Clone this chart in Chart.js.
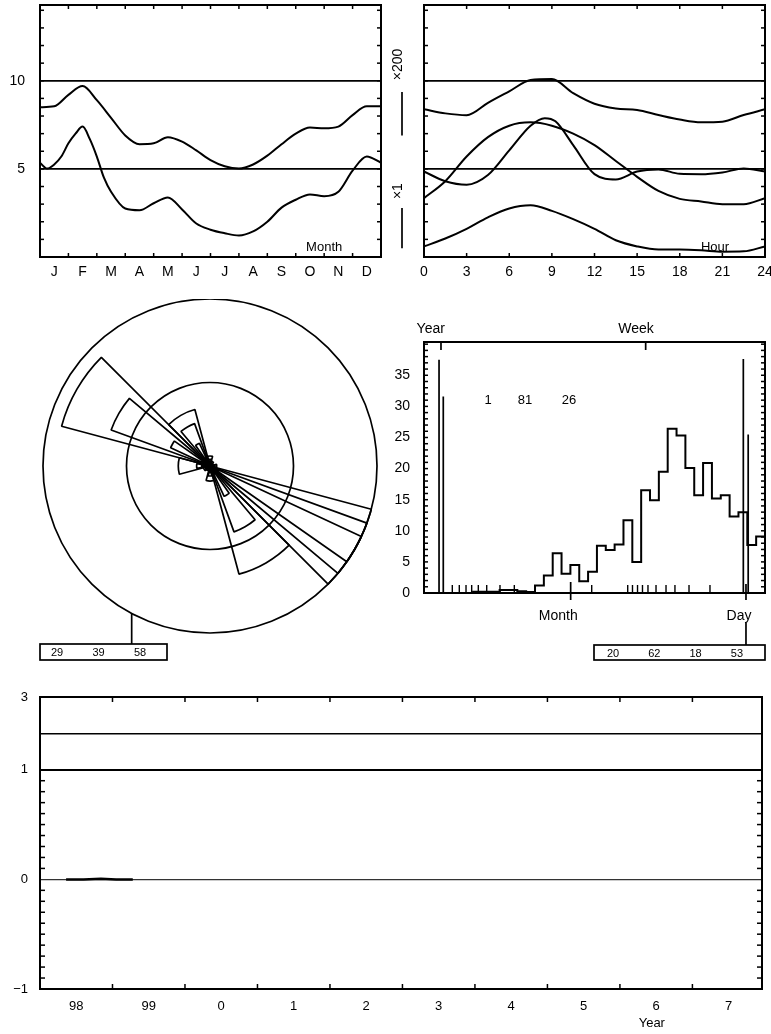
<!DOCTYPE html>
<html>
<head>
<meta charset="utf-8">
<title>Station summary</title>
<script src="https://cdn.jsdelivr.net/npm/chart.js@4.4.1/dist/chart.umd.min.js"></script>
<style>
  html, body { margin: 0; padding: 0; background: #fff; }
  #page { position: relative; width: 771px; height: 1034px; overflow: hidden; }
  canvas { position: absolute; }
</style>
</head>
<body>
<div id="page">
  <canvas id="monthChart" width="385" height="290" style="left:0;top:0"></canvas>
  <canvas id="hourChart" width="386" height="290" style="left:385px;top:0"></canvas>
  <canvas id="roseChart" width="385" height="370" style="left:0;top:299px"></canvas>
  <canvas id="histChart" width="386" height="370" style="left:385px;top:300px"></canvas>
  <canvas id="yearChart" width="771" height="344" style="left:0;top:690px"></canvas>
</div>
<script>
// Monthly cycle
const monthLabels = ['J', 'F', 'M', 'A', 'M', 'J', 'J', 'A', 'S', 'O', 'N', 'D'];
const monthPosA = [0, 0.5, 1, 1.5, 2, 2.5, 3, 3.5, 4, 4.5, 5, 5.5, 6, 6.5, 7, 7.5, 8, 8.5, 9, 9.5, 10, 10.5, 11, 11.5, 12];
const monthUpper = [8.5, 8.55, 9.2, 9.7, 8.9, 7.9, 6.9, 6.4, 6.45, 6.8, 6.55, 6.05, 5.5, 5.15, 5.02, 5.25, 5.75, 6.4, 7.0, 7.35, 7.3, 7.4, 8.05, 8.55, 8.55];
const monthPosB = [0, 0.25, 0.5, 0.75, 1, 1.25, 1.5, 1.75, 2, 2.25, 2.5, 3, 3.5, 4, 4.5, 5, 5.5, 6, 6.5, 7, 7.5, 8, 8.5, 9, 9.5, 10, 10.5, 11, 11.5, 12];
const monthLower = [5.35, 5.02, 5.25, 5.7, 6.45, 7.0, 7.4, 6.7, 5.7, 4.5, 3.7, 2.75, 2.65, 3.05, 3.38, 2.7, 1.9, 1.55, 1.35, 1.22, 1.45, 2.0, 2.8, 3.25, 3.55, 3.45, 3.7, 4.9, 5.7, 5.35];

// Daily cycle
const hourTicks = [0, 3, 6, 9, 12, 15, 18, 21, 24];
const hourPos = [0, 1.5, 3, 4.5, 6, 7.5, 9, 10.5, 12, 13.5, 15, 16.5, 18, 19.5, 21, 22.5, 24];
const hourTop = [8.38, 8.15, 8.05, 8.75, 9.4, 10.04, 10.1, 9.3, 8.7, 8.43, 8.34, 8.06, 7.8, 7.64, 7.68, 8.06, 8.38];
const hourBroad = [3.34, 4.3, 5.7, 6.8, 7.45, 7.64, 7.45, 7.0, 6.35, 5.45, 4.55, 3.75, 3.3, 3.15, 3.0, 3.0, 3.34];
const hourLow = [0.6, 1.05, 1.6, 2.25, 2.75, 2.93, 2.62, 2.15, 1.6, 0.95, 0.6, 0.42, 0.42, 0.38, 0.3, 0.32, 0.6];
const hourPosPeak = [0, 1.5, 3, 4.5, 6, 7.5, 8.5, 9.25, 10.5, 12, 13.5, 15, 16.5, 18, 19.5, 21, 22.5, 24];
const hourPeak = [4.85, 4.3, 4.1, 4.65, 6.05, 7.45, 7.88, 7.7, 6.35, 4.7, 4.4, 4.85, 4.97, 4.72, 4.7, 4.8, 5.02, 4.85];

// Direction rose (percent of outer ring), bins centred on 0,30,...,330 deg
const roseDirs = [0, 30, 60, 90, 120, 150, 180, 210, 240, 270, 300, 330];
const roseWide = [6, 3, 2, 4, 100, 67, 9, 3, 4, 19, 92, 35];
const roseMid = [4, 2, 1, 3, 100, 42, 6, 2, 3, 8, 63, 27];
const roseNarrow = [2, 1, 1, 2, 100, 20, 4, 1, 2, 5, 26, 15];
const roseScale = ['29', '39', '58'];

// Histogram
const histCounts = [0, 0, 0, 0, 0, 0.2, 0.2, 0.2, 0.5, 0.5, 0.3, 0.15, 1.2, 2.8, 6.4, 3.1, 4.5, 1.9, 3.4, 7.6, 6.9, 7.8, 11.7, 5.0, 16.5, 14.9, 19.5, 26.4, 25.3, 20.1, 15.7, 20.9, 15.2, 15.7, 12.3, 13.0, 7.7, 9.1];
const spikeX = [1.15, 1.63, 35.55, 36.1];
const spikeH = [37.5, 31.6, 37.6, 25.5];
const smallTickX = [2.65, 3.44, 4.2, 4.84, 5.59, 6.54, 8.04, 9.66, 18.41, 22.48, 23.02, 23.59, 24.15, 24.77, 25.68, 26.81, 27.82, 29.41, 31.78];
const smallTickH = smallTickX.map(() => 1.3);
const topMarkNames = ['Year', 'Week'];
const topMarkAt = [1.37, 24.51];
const topLabelAt = [0.21, 23.42];
const bottomMarkNames = ['Month', 'Day'];
const bottomMarkAt = [16.03, 35.85];
const bottomLabelAt = [14.63, 35.06];
const histNumbers = ['1', '81', '26'];
const histNumbersAt = [6.69, 10.87, 15.84];
const dayBox = ['20', '62', '18', '53'];

// Yearly series
const yearLabels = ['98', '99', '0', '1', '2', '3', '4', '5', '6', '7'];
const trendX = [1998.36, 1998.6, 1998.84, 1999.05, 1999.28];
const trendY = [0, 0, 0.005, 0, 0];

const FONT = '"Liberation Sans", Arial, Helvetica, sans-serif';
Chart.defaults.font.family = FONT;
Chart.defaults.font.size = 14;
Chart.defaults.color = '#000';
Chart.defaults.borderColor = '#000';
Chart.defaults.animation = false;
Chart.defaults.responsive = false;
Chart.defaults.events = [];
Chart.defaults.plugins.legend.display = false;
Chart.defaults.plugins.tooltip.enabled = false;

const range = (a, b, step = 1) => {
    const out = [];
    for (let v = a; v <= b + 1e-9; v += step) out.push(+v.toFixed(4));
    return out;
};
const pts = (xs, ys) => xs.map((x, i) => ({ x, y: ys[i] }));
const vbars = (xs, hs) => xs.flatMap((x, i) => [{ x, y: 0 }, { x, y: hs[i] }, { x, y: null }]);
const curve = (xs, ys) => ({
    data: pts(xs, ys), cubicInterpolationMode: 'monotone',
    borderColor: '#000', borderWidth: 2, pointRadius: 0
});
const setTicks = values => s => { s.ticks = values.map(value => ({ value })); };
const fixSize = size => s => {
    if (s.isHorizontal()) s.height = size; else s.width = size;
    s.paddingLeft = s.paddingRight = s.paddingTop = s.paddingBottom = 0;
};

function seg(ctx, x1, y1, x2, y2, w = 1.5) {
    ctx.save();
    ctx.strokeStyle = '#000';
    ctx.lineWidth = w;
    ctx.beginPath();
    ctx.moveTo(x1, y1);
    ctx.lineTo(x2, y2);
    ctx.stroke();
    ctx.restore();
}
function text(ctx, str, x, y, size, rotate = 0) {
    ctx.save();
    ctx.fillStyle = '#000';
    ctx.font = size + 'px ' + FONT;
    ctx.textAlign = 'center';
    ctx.textBaseline = 'middle';
    ctx.translate(x, y);
    ctx.rotate(rotate);
    ctx.fillText(str, 0, 0);
    ctx.restore();
}
function frame(chart) {
    const a = chart.chartArea, ctx = chart.ctx;
    ctx.save();
    ctx.strokeStyle = '#000';
    ctx.lineWidth = 2;
    ctx.strokeRect(a.left, a.top, a.right - a.left, a.bottom - a.top);
    ctx.restore();
}
// tick marks pointing into the frame, on both opposite sides
function innerTicks(chart, id, values, len = 4) {
    const s = chart.scales[id], a = chart.chartArea, ctx = chart.ctx;
    values.forEach(v => {
        const p = s.getPixelForValue(v);
        if (s.isHorizontal()) {
            seg(ctx, p, a.bottom, p, a.bottom - len);
            seg(ctx, p, a.top, p, a.top + len);
        } else {
            seg(ctx, a.left, p, a.left + len, p);
            seg(ctx, a.right, p, a.right - len, p);
        }
    });
}

// ---- monthly panel
new Chart(document.getElementById('monthChart'), {
    type: 'line',
    data: { datasets: [curve(monthPosA, monthUpper), curve(monthPosB, monthLower)] },
    options: {
        layout: { padding: { top: 5, right: 4, left: 0, bottom: 0 } },
        scales: {
            x: {
                type: 'linear', min: 0, max: 12,
                afterBuildTicks: setTicks(monthLabels.map((_, i) => i + 0.5)),
                ticks: { callback: (v, i) => monthLabels[i], padding: 7, autoSkip: false, maxRotation: 0 },
                grid: { display: false, drawTicks: false }, border: { display: false },
                afterFit: fixSize(33)
            },
            y: {
                min: 0, max: 14.3,
                afterBuildTicks: setTicks([5, 10]),
                ticks: { padding: 15 },
                grid: { color: '#000', lineWidth: 1.7, drawTicks: false }, border: { display: false },
                afterFit: fixSize(40)
            }
        }
    },
    plugins: [{
        id: 'monthDecor',
        afterDatasetsDraw(chart) {
            const { x, y } = chart.scales;
            frame(chart);
            innerTicks(chart, 'x', range(1, 11));
            innerTicks(chart, 'y', range(1, 14));
            text(chart.ctx, 'Month', x.getPixelForValue(10), y.getPixelForValue(0.53), 13);
        }
    }]
});

// ---- daily panel
new Chart(document.getElementById('hourChart'), {
    type: 'line',
    data: {
        datasets: [
            curve(hourPos, hourTop), curve(hourPos, hourBroad),
            curve(hourPosPeak, hourPeak), curve(hourPos, hourLow)
        ]
    },
    options: {
        layout: { padding: { top: 5, right: 6, left: 0, bottom: 0 } },
        scales: {
            x: {
                type: 'linear', min: 0, max: 24,
                afterBuildTicks: setTicks(hourTicks),
                ticks: { padding: 7, autoSkip: false, maxRotation: 0 },
                grid: { display: false, drawTicks: false }, border: { display: false },
                afterFit: fixSize(33)
            },
            y: {
                min: 0, max: 14.3,
                afterBuildTicks: setTicks([5, 10]),
                ticks: { display: false },
                grid: { color: '#000', lineWidth: 1.7, drawTicks: false }, border: { display: false },
                afterFit: fixSize(39)
            }
        }
    },
    plugins: [{
        id: 'hourDecor',
        afterDatasetsDraw(chart) {
            const { x, y } = chart.scales, ctx = chart.ctx;
            frame(chart);
            innerTicks(chart, 'x', hourTicks.slice(1, -1));
            innerTicks(chart, 'y', range(1, 14));
            text(ctx, 'Hour', x.getPixelForValue(20.48), y.getPixelForValue(0.53), 13);
            // scale factor keys on the left margin
            const kx = chart.chartArea.left - 26;
            text(ctx, '\u00d7200', kx, y.getPixelForValue(10.93), 14, -Math.PI / 2);
            seg(ctx, kx + 4, y.getPixelForValue(9.37), kx + 4, y.getPixelForValue(6.9), 1.7);
            text(ctx, '\u00d71', kx, y.getPixelForValue(3.74), 14, -Math.PI / 2);
            seg(ctx, kx + 4, y.getPixelForValue(2.78), kx + 4, y.getPixelForValue(0.5), 1.7);
        }
    }]
});

// ---- direction rose: three nested wedge widths per bin
const ring = (values, parts) => ({
    data: parts.length === 1 ? values : values.flatMap(v => parts.map((_, k) => (k === 1 ? v : 0))),
    angle: c => parts[c.dataIndex % parts.length],
    borderWidth: c => (parts.length === 1 || c.dataIndex % 3 === 1 ? 1.7 : 0),
    borderColor: '#000',
    backgroundColor: 'rgba(0,0,0,0)'
});
new Chart(document.getElementById('roseChart'), {
    type: 'polarArea',
    data: {
        labels: roseDirs.map(String),
        datasets: [ring(roseWide, [30]), ring(roseMid, [5, 20, 5]), ring(roseNarrow, [10, 10, 10])]
    },
    options: {
        layout: { padding: { left: 43, right: 7, top: 0, bottom: 35 } },
        scales: {
            r: {
                min: 0, max: 100, startAngle: -15,
                ticks: { display: false, stepSize: 50 },
                grid: { color: '#000', lineWidth: 1.7, circular: true },
                angleLines: { display: false },
                pointLabels: { display: false }
            }
        }
    },
    plugins: [{
        id: 'roseDecor',
        afterDraw(chart) {
            const r = chart.scales.r, ctx = chart.ctx;
            const cx = r.xCenter, cy = r.yCenter, R = r.drawingArea;
            const lx = cx - 0.469 * R;
            const boxTop = cy + R + 11;
            seg(ctx, lx, cy + Math.sqrt(R * R - (cx - lx) * (cx - lx)), lx, boxTop, 1.7);
            ctx.save();
            ctx.lineWidth = 1.7;
            ctx.strokeRect(cx - 170, boxTop, 127, 16);
            ctx.restore();
            roseScale.forEach((s, i) => text(ctx, s, cx - 153 + i * 41.5, boxTop + 9, 11));
        }
    }]
});

// ---- histogram
new Chart(document.getElementById('histChart'), {
    type: 'line',
    data: {
        datasets: [
            {
                data: pts(histCounts.map((_, k) => k).concat([histCounts.length]), histCounts.concat([histCounts[histCounts.length - 1]])),
                stepped: true, borderColor: '#000', borderWidth: 2, pointRadius: 0
            },
            { data: vbars(spikeX, spikeH), borderColor: '#000', borderWidth: 1.7, pointRadius: 0, spanGaps: false },
            { data: vbars(smallTickX, smallTickH), borderColor: '#000', borderWidth: 1.4, pointRadius: 0, spanGaps: false }
        ]
    },
    options: {
        layout: { padding: { top: 0, right: 6, left: 0, bottom: 0 } },
        scales: {
            x: {
                type: 'linear', min: -0.55, max: 38, position: 'bottom',
                afterBuildTicks: setTicks(bottomLabelAt),
                ticks: { callback: (v, i) => bottomMarkNames[i], padding: 15, autoSkip: false, maxRotation: 0 },
                grid: { display: false, drawTicks: false }, border: { display: false },
                afterFit: fixSize(77)
            },
            xt: {
                type: 'linear', min: -0.55, max: 38, position: 'top',
                afterBuildTicks: setTicks(topLabelAt),
                ticks: { callback: (v, i) => topMarkNames[i], padding: 4, autoSkip: false, maxRotation: 0 },
                grid: { display: false, drawTicks: false }, border: { display: false },
                afterFit: fixSize(42)
            },
            y: {
                min: 0, max: 40.35,
                afterBuildTicks: setTicks(range(0, 35, 5)),
                ticks: { padding: 14 },
                grid: { display: false, drawTicks: false }, border: { display: false },
                afterFit: fixSize(39)
            }
        }
    },
    plugins: [{
        id: 'histDecor',
        afterDatasetsDraw(chart) {
            const { x, y } = chart.scales, a = chart.chartArea, ctx = chart.ctx;
            frame(chart);
            innerTicks(chart, 'y', range(1, 40));
            topMarkAt.forEach(v => seg(ctx, x.getPixelForValue(v), a.top, x.getPixelForValue(v), a.top + 8, 1.7));
            const mx = x.getPixelForValue(bottomMarkAt[0]);
            seg(ctx, mx, a.bottom - 11, mx, a.bottom + 7, 1.7);
            const dx = x.getPixelForValue(bottomMarkAt[1]);
            seg(ctx, dx, a.bottom - 9, dx, a.bottom + 7, 1.7);
            seg(ctx, dx, a.bottom + 30, dx, a.bottom + 52, 1.7);
            histNumbers.forEach((s, i) => text(ctx, s, x.getPixelForValue(histNumbersAt[i]), y.getPixelForValue(31), 13));
            const boxLeft = a.right - 171, boxTop = a.bottom + 52;
            ctx.save();
            ctx.lineWidth = 1.7;
            ctx.strokeRect(boxLeft, boxTop, 171, 15);
            ctx.restore();
            dayBox.forEach((s, i) => text(ctx, s, boxLeft + 19 + i * 41.3, boxTop + 8.5, 11));
        }
    }]
});

// ---- yearly panel with a compressed upper band
new Chart(document.getElementById('yearChart'), {
    type: 'line',
    data: {
        datasets: [{ data: pts(trendX, trendY), borderColor: '#000', borderWidth: 2.5, pointRadius: 0, yAxisID: 'y' }]
    },
    options: {
        layout: { padding: { top: 7, right: 9, left: 0, bottom: 0 } },
        scales: {
            x: {
                type: 'linear', min: 1998, max: 2007.96,
                afterBuildTicks: setTicks(yearLabels.map((_, i) => 1998.5 + i)),
                ticks: { callback: (v, i) => yearLabels[i], padding: 10, autoSkip: false, maxRotation: 0, font: { size: 13 } },
                grid: { display: false, drawTicks: false }, border: { display: false },
                afterFit: fixSize(45)
            },
            y: {
                min: -1, max: 1, stack: 'band', stackWeight: 220,
                afterBuildTicks: setTicks([-1, 0, 1]),
                ticks: { callback: v => (v < 0 ? '\u2212' + Math.abs(v) : String(v)), padding: 12, font: { size: 13 } },
                grid: {
                    drawTicks: false,
                    color: c => (c.tick && c.tick.value === 0 ? '#333' : (c.tick && c.tick.value === 1 ? '#000' : 'rgba(0,0,0,0)')),
                    lineWidth: c => (c.tick && c.tick.value === 1 ? 2 : 1.2)
                },
                border: { display: false },
                afterFit: fixSize(40)
            },
            y2: {
                min: 1, max: 3, stack: 'band', stackWeight: 73,
                afterBuildTicks: setTicks([1, 2, 3]),
                ticks: { callback: v => (v === 3 ? '3' : ''), padding: 12, font: { size: 13 } },
                grid: { drawTicks: false, color: '#000', lineWidth: c => (c.tick && c.tick.value === 2 ? 1.5 : 2) },
                border: { display: false },
                afterFit: fixSize(40)
            }
        }
    },
    plugins: [{
        id: 'yearDecor',
        afterDatasetsDraw(chart) {
            const { x } = chart.scales, a = chart.chartArea;
            frame(chart);
            innerTicks(chart, 'x', range(1999, 2007), 5);
            innerTicks(chart, 'y', range(-0.9, 0.9, 0.1).filter(v => Math.abs(v) > 1e-6), 5);
            text(chart.ctx, 'Year', x.getPixelForValue(2006.44), a.bottom + 34, 13);
        }
    }]
});
</script>
</body>
</html>
